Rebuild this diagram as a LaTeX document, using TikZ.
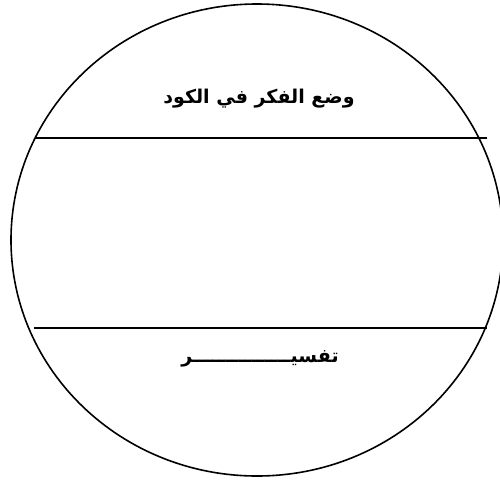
\documentclass[tikz,border=0pt]{standalone}
\usepackage{fontspec}
\newfontfamily\arabicfont[Script=Arabic]{DejaVu Sans}
\TeXXeTstate=1
\begin{document}
\begin{tikzpicture}[x=1pt,y=-1pt,
  outline/.style={line width=1.6pt,black},
  rule/.style={line width=1.5pt,black},
  label/.style={font=\arabicfont\bfseries\fontsize{19}{22}\selectfont,inner sep=0pt}]
\useasboundingbox (0,0) rectangle (500,480);
\clip (0,0) rectangle (500,480);
\draw[outline] (257,240) ellipse [x radius=246, y radius=236];
\draw[rule] (35,138) -- (487,138);
\draw[rule] (34,328) -- (487,328);
\node[label] (t1) at (259,99) {\beginR وضع الفكر في الكود\endR};
\node[label] (t2) at (260,359) {\beginR تفسيـــــــــــــــر\endR};
\end{tikzpicture}
\end{document}
